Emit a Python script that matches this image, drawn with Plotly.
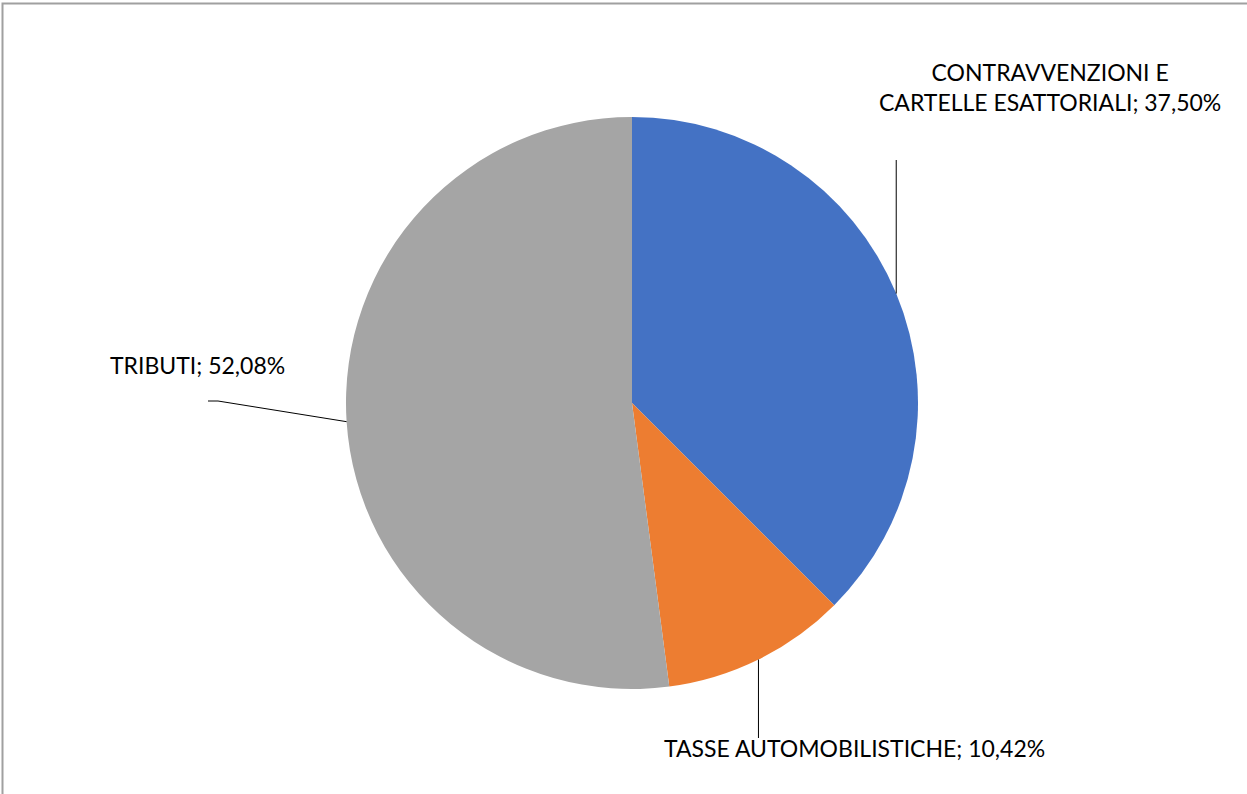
import math
import plotly.graph_objects as go

# Data
categories = ["CONTRAVVENZIONI E CARTELLE ESATTORIALI", "TASSE AUTOMOBILISTICHE", "TRIBUTI"]
shares = [37.50, 10.42, 52.08]
colors = ["#4472C4", "#ED7D31", "#A5A5A5"]

W, H = 1247, 794
cx, cy, r = 632, 403, 286  # pie centre and radius in pixels


def px(x):
    return x / W


def py(y):
    return 1 - y / H


def fmt(v):
    return f"{v:.2f}".replace(".", ",") + "%"


fig = go.Figure(
    go.Pie(
        labels=categories,
        values=shares,
        sort=False,
        direction="clockwise",
        rotation=0,
        marker=dict(colors=colors, line=dict(width=0)),
        textinfo="none",
        hoverinfo="label+percent",
        showlegend=False,
        domain=dict(x=[px(cx - r), px(cx + r)], y=[py(cy + r), py(cy - r)]),
    )
)

# Mid-angle of each slice on the rim (clockwise from 12 o'clock)
total = sum(shares)
rim = []
acc = 0.0
for v in shares:
    mid = (acc + v / 2) / total * 2 * math.pi
    rim.append((cx + r * math.sin(mid), cy - r * math.cos(mid)))
    acc += v

font = dict(family="Lato, Open Sans, sans-serif", size=23, color="#000000")
line_style = dict(color="#000000", width=1)

shapes = [
    # outer frame of the chart area
    dict(type="rect", xref="paper", yref="paper",
         x0=px(2.5), x1=1.2, y0=-0.2, y1=py(3.5),
         line=dict(color="#A0A0A0", width=2), fillcolor="rgba(0,0,0,0)"),
]

# Leader lines
bx, by = rim[0]
shapes.append(dict(type="line", xref="paper", yref="paper",
                   x0=px(bx), y0=py(by), x1=px(bx), y1=py(160), line=line_style))
ox, oy = rim[1]
shapes.append(dict(type="line", xref="paper", yref="paper",
                   x0=px(ox), y0=py(oy), x1=px(ox), y1=py(738), line=line_style))
gx, gy = rim[2]
shapes.append(dict(type="path", xref="paper", yref="paper",
                   path=f"M {px(gx)},{py(gy)} L {px(218)},{py(401)} L {px(208)},{py(401)}",
                   line=line_style))

annotations = [
    dict(text=f"CONTRAVVENZIONI E<br>CARTELLE ESATTORIALI; {fmt(shares[0])}",
         x=px(1050), y=py(87), xanchor="center", yanchor="middle", align="center"),
    dict(text=f"{categories[1]}; {fmt(shares[1])}",
         x=px(662), y=py(748), xanchor="left", yanchor="middle"),
    dict(text=f"{categories[2]}; {fmt(shares[2])}",
         x=px(108), y=py(365), xanchor="left", yanchor="middle"),
]
for a in annotations:
    a.update(xref="paper", yref="paper", showarrow=False, font=font)

fig.update_layout(
    width=W, height=H,
    margin=dict(l=0, r=0, t=0, b=0),
    paper_bgcolor="#FFFFFF",
    plot_bgcolor="#FFFFFF",
    shapes=shapes,
    annotations=annotations,
)

fig.write_html("out.html")
